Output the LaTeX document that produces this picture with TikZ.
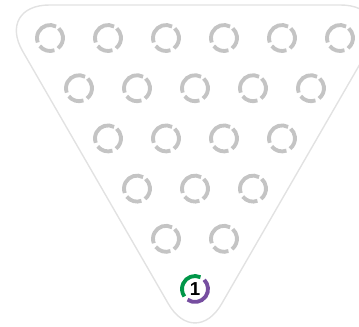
\documentclass[tikz,border=0pt]{standalone}
\usepackage{fontspec}
\setsansfont{Liberation Sans}
\definecolor{rackgray}{RGB}{196,196,196}
\definecolor{traygray}{RGB}{226,226,226}
\definecolor{ballgreen}{RGB}{0,150,72}
\definecolor{ballpurple}{RGB}{118,78,160}
\usetikzlibrary{positioning}

\tikzset{
  ring/.style={line width=3.3pt,line cap=butt},
  gapring/.pic={
    \draw[ring,rackgray] (62:13) arc[start angle=62,end angle=200,radius=13];
    \draw[ring,rackgray] (218:13) arc[start angle=218,end angle=290,radius=13];
    \draw[ring,rackgray] (308:13) arc[start angle=308,end angle=408,radius=13];
  }
}

\begin{document}
\begin{tikzpicture}[x=0.03cm,y=0.03cm]
  \clip (0,0) rectangle (359,-326);
  \useasboundingbox (0,0) rectangle (359,-326);

  % Tray
  \draw[traygray,line width=1.2pt,rounded corners=1.6cm] (-4,-5) -- (394,-5) -- (195,-350) -- cycle;

  % Empty spots
  \foreach \r in {0,...,4}{
    \pgfmathtruncatemacro\n{5-\r}
    \foreach \i in {0,...,\n}{
      \pic at ({195-29*(5-\r)+58*\i},{-38-50.2*\r}) {gapring};
    }
  }

  % Ball one
  \node[font=\sffamily\bfseries\fontsize{16}{16}\selectfont] (ballone) at (195,-289) {1};
  \draw[ring,ballgreen] ([shift={(65:13)}]ballone.center) arc[start angle=65,end angle=215,radius=13];
  \draw[ring,ballpurple] ([shift={(235:13)}]ballone.center) arc[start angle=235,end angle=405,radius=13];
\end{tikzpicture}
\end{document}
